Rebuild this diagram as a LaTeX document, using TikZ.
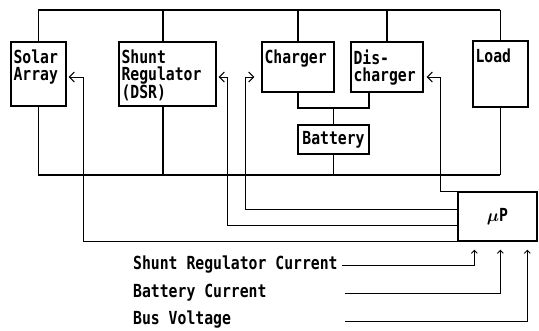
\documentclass[tikz,border=0pt]{standalone}
\usepackage{fontspec}
\newfontfamily\wpfont[FakeStretch=0.82]{DejaVu Sans Mono}
\usetikzlibrary{arrows.meta,calc,positioning}
\tikzset{>={Straight Barb[length=5pt,width=10pt,line width=1pt]},
  bus/.style={draw,line width=1.4pt},
  unit/.style={draw,line width=1.3pt,inner sep=0pt},
  sig/.style={draw,line width=.7pt},
  tag/.style={anchor=north west,align=left,inner xsep=3pt,inner ysep=8pt},
  intip/.style={-{Straight Barb[length=3pt,width=6pt,line width=1pt]}}}

\begin{document}
\begin{tikzpicture}[x=1pt,y=-1pt,font=\wpfont\bfseries\fontsize{18}{17}\selectfont]
\useasboundingbox (0,0) rectangle (539,331);
% units on the bus
\node[unit,minimum width=55pt,minimum height=64pt,label={[tag]north west:Solar\\Array}] (solar) at (38.5,74) {};
\node[unit,minimum width=97pt,minimum height=64pt,label={[tag]north west:Shunt\\Regulator\\(DSR)}] (shunt) at (167.5,74) {};
\node[unit,minimum width=72pt,minimum height=50pt,label={[tag]north west:Charger}] (charger) at (298,67) {};
\node[unit,minimum width=72pt,minimum height=50pt,label={[tag]north west:Dis-\\charger}] (dis) at (387,67) {};
\node[unit,minimum width=55pt,minimum height=66pt,label={[tag]north west:Load}] (load) at (500.5,74) {};
\node[unit,minimum width=71pt,minimum height=29pt] (bat) at (333.5,139.5) {Battery};
\node[unit,minimum width=79pt,minimum height=49pt] (mup) at (497.5,216.5) {{\boldmath$\mu$}P};

% power bus
\coordinate (tl) at (38,10); \coordinate (tr) at (500,10);
\coordinate (bl) at (38,175); \coordinate (br) at (500,175);
\coordinate (jn) at (333.5,108);
\draw[bus] (tl) -- (tr);
\draw[bus] (bl) -- (br);
\foreach \n in {solar,charger,dis,load}
  \draw[bus] (\n.north) -- (\n.north |- tl);
\foreach \n in {solar,load,bat}
  \draw[bus] (\n.south) -- (\n.south |- bl);
\draw[bus] ([xshift=-4.5pt]shunt.north) -- ([xshift=-4.5pt]shunt.north |- tl);
\draw[bus] ([xshift=-4.5pt]shunt.south) -- ([xshift=-4.5pt]shunt.south |- bl);
\draw[bus] (charger.south) |- (jn) -| ([xshift=-18pt]dis.south);
\draw[bus] (jn) -- (bat.north);

% control lines from the processor
\coordinate (sa) at (83,77); \coordinate (sr) at (227,77);
\coordinate (ch) at (245,77); \coordinate (dc) at (440,77);
\draw[sig,->] (mup.south west) -| (sa) -- ([xshift=2pt]solar.east |- sa);
\draw[sig,->] ([yshift=16pt]mup.south west) -| (sr) -- ([xshift=2pt]shunt.east |- sr);
\draw[sig,->] ([yshift=32pt]mup.south west) -| (ch) -- ([xshift=-7pt]charger.west |- ch);
\draw[sig,->] (mup.north west) -| (dc) -- ([xshift=3pt]dis.east |- dc);

% measured inputs
\node[anchor=west,inner sep=2pt] (t1) at (131,265) {Shunt Regulator Current};
\node[anchor=west,inner sep=2pt] (t2) at (131,293) {Battery Current};
\node[anchor=west,inner sep=2pt] (t3) at (131,320) {Bus Voltage};
\coordinate (s1) at (342,265); \coordinate (s2) at (345,293); \coordinate (s3) at (345,321);
\foreach \i/\dx in {1/17,2/43,3/70}
  \draw[sig,intip] (s\i) -| ($(mup.south west)+(\dx,8)$);
\end{tikzpicture}
\end{document}
